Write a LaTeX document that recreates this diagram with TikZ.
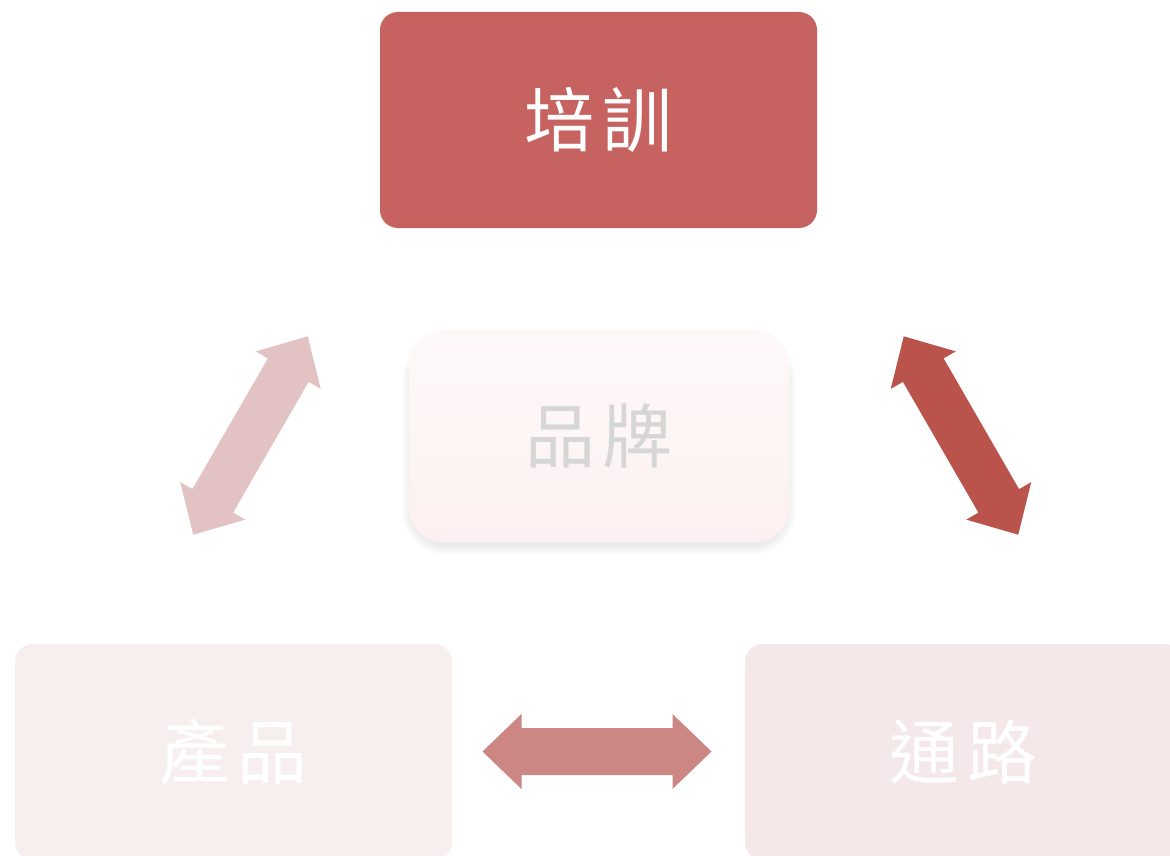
\documentclass[tikz,border=0pt]{standalone}
\usepackage{fontspec}
\newfontfamily\cjk{Noto Sans CJK TC}
\definecolor{topred}{RGB}{198,98,96}
\definecolor{brandtop}{RGB}{254,249,249}
\definecolor{brandbot}{RGB}{253,240,240}
\definecolor{brandtext}{RGB}{214,214,214}
\definecolor{prodfill}{RGB}{247,239,238}
\definecolor{chanfill}{RGB}{245,232,232}
\definecolor{arrowleft}{RGB}{226,194,195}
\definecolor{arrowright}{RGB}{185,83,75}
\definecolor{arrowbottom}{RGB}{204,135,132}
\newcommand\cjkpair[2]{#1\hspace{8pt}#2}
\begin{document}
\begin{tikzpicture}[x=1pt,y=-1pt,
  bigbox/.style={rounded corners=18pt, minimum width=437pt, minimum height=216pt,
    inner sep=0pt, text=white, font=\cjk\fontsize{70}{70}\selectfont},
  brandbox/.style={rounded corners=34pt, minimum width=380pt, minimum height=212pt,
    inner sep=0pt, top color=brandtop, bottom color=brandbot, draw=none,
    text=brandtext, font=\cjk\fontsize{70}{70}\selectfont},
  dblarrow/.pic={
    \fill (-114.5,0) -- (-75.5,37.5) -- (-75.5,23.5) -- (75.5,23.5) -- (75.5,37.5)
      -- (114.5,0) -- (75.5,-37.5) -- (75.5,-23.5) -- (-75.5,-23.5) -- (-75.5,-37.5) -- cycle;
  }]
\useasboundingbox (0,0) rectangle (1170,856);
\clip (0,0) rectangle (1170,856);
\fill[white] (0,0) rectangle (1170,856);

% soft shadow of the centre box, mostly below it
\foreach \e in {1,...,10}{
  \fill[black, opacity=0.007, rounded corners=34pt+\e pt]
    (412-\e, 345-\e) rectangle (786+\e, 545+\e);
}

\node[bigbox, fill=topred] (train) at (598.5,120) {\cjkpair{培}{訓}};
\node[brandbox] (brand) at (599,436) {\raisebox{-7pt}{\cjkpair{品}{牌}}};
\node[bigbox, fill=prodfill] (prod) at (233.5,752) {\cjkpair{產}{品}};
\node[bigbox, fill=chanfill] (chan) at (963.5,752) {\cjkpair{通}{路}};

\pic[fill=arrowleft, rotate=60] (leftarrow) at (250.5,435.5) {dblarrow};
\pic[fill=arrowright, rotate=-60] (rightarrow) at (961,435.5) {dblarrow};
\pic[fill=arrowbottom] (bottomarrow) at (597,751.5) {dblarrow};
\end{tikzpicture}
\end{document}
